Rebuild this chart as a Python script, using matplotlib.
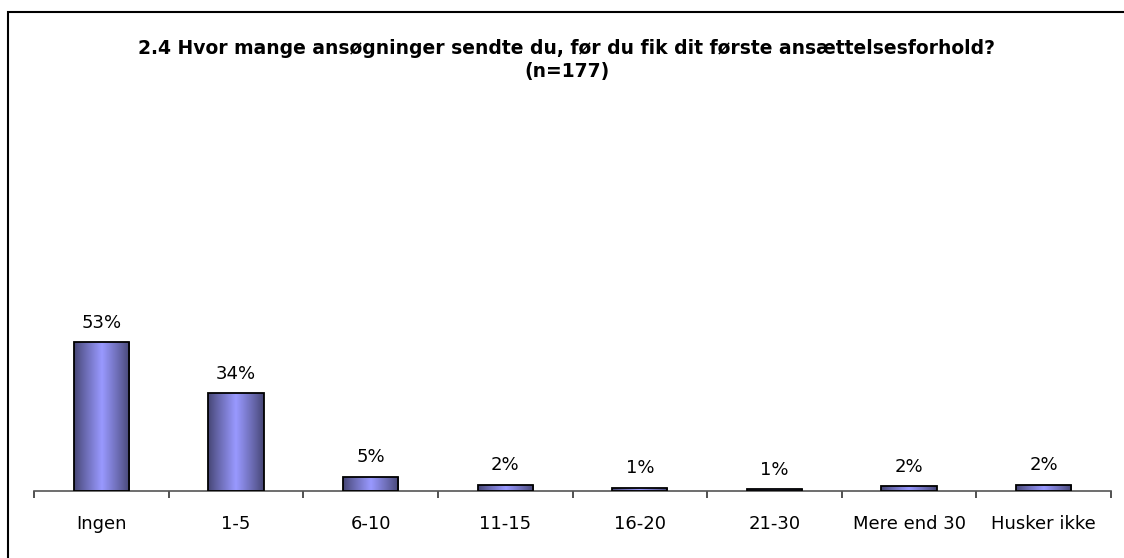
import matplotlib.pyplot as plt
import numpy as np
from matplotlib.patches import Rectangle

# svarfordeling (n=177), procent
kategorier = ['Ingen', '1-5', '6-10', '11-15', '16-20', '21-30', 'Mere end 30', 'Husker ikke']
antal = [93, 61, 9, 4, 2, 1, 3, 4]
procent = [a / 177 * 100 for a in antal]
etiketter = ['53%', '34%', '5%', '2%', '1%', '1%', '2%', '2%']

titel = '2.4 Hvor mange ansøgninger sendte du, før du fik dit første ansættelsesforhold?\n(n=177)'

W, H = 1124, 558
fig = plt.figure(figsize=(W / 100, H / 100), dpi=100)
plt.rcParams['font.family'] = ['DejaVu Sans']

# ramme om hele diagrammet
fig.patches.append(Rectangle((8 / W, -0.1), 1.2, 1 - 12 / H + 0.1, transform=fig.transFigure,
                             fill=False, edgecolor='black', linewidth=1.5))

ax = fig.add_axes([34 / W, 1 - 491 / H, (1111 - 34) / W, 170 / H])
x = np.arange(len(kategorier))
bars = ax.bar(x, procent, width=0.41, facecolor='none', edgecolor='black', linewidth=1.3, zorder=3)

# vandret farveforløb i søjlerne
t = np.linspace(0, 1, 200)
prof = np.clip(1 - np.abs(t - 0.5) / 0.5, 0, 1) ** 0.9
mork = np.array([0.27, 0.27, 0.45])
lys = np.array([0.60, 0.60, 1.00])
grad = mork[None, :] + (lys - mork)[None, :] * prof[:, None]
grad = grad[None, :, :]
for b in bars:
    x0, w, h = b.get_x(), b.get_width(), b.get_height()
    im = ax.imshow(grad, extent=(x0, x0 + w, 0, h), aspect='auto', zorder=2, interpolation='bilinear')
    im.set_clip_path(b)

for xi, v, lab in zip(x, procent, etiketter):
    ax.annotate(lab, (xi, v), xytext=(0, 14), textcoords='offset points',
                ha='center', va='center', fontsize=13)

ax.set_xlim(-0.5, len(kategorier) - 0.5)
ax.set_ylim(0, 60)
for s in ['top', 'right', 'left']:
    ax.spines[s].set_visible(False)
ax.spines['bottom'].set_color('#555555')
ax.spines['bottom'].set_linewidth(1.2)
ax.set_yticks([])
ax.set_xticks(np.arange(-0.5, len(kategorier)), labels=[])
ax.set_xticks(x, labels=kategorier, minor=True)
ax.tick_params(axis='x', which='major', length=5, color='#333333', width=1.2, direction='out')
ax.tick_params(axis='x', which='minor', length=0, pad=17, labelsize=13)

fig.text(567 / W, 1 - 60 / H, titel, ha='center', va='center', fontsize=13.5,
         fontweight='bold', linespacing=1.25)

fig.savefig('out.png', dpi=100)
